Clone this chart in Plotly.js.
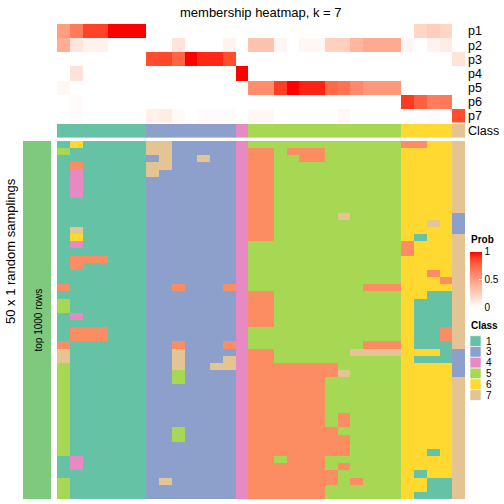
<!DOCTYPE html>
<html><head><meta charset="utf-8">
<script src="https://cdn.plot.ly/plotly-3.0.1.min.js"></script>
<style>html,body{margin:0;padding:0;background:#fff}#chart{width:504px;height:504px}</style>
</head><body><div id="chart"></div>
<script>
// ---------- data ----------
const probLabels = ['p1','p2','p3','p4','p5','p6','p7'];
//            1    2    3    4    5  6  7   8    9    10   11  12   13   14   15  16   17   18   19  20   21   22   23   24   25   26   27   28   29   30   31   32
const p1 = [0.50,0.67,0.88,0.88,1, 1, 1,  0,   0,   0,   0,  0,   0,   0,   0,  0,   0,   0,   0,  0,   0,   0,   0,   0,   0,   0,   0,   0,   0.22,0.26,0.22,0];
const p2 = [0.42,0.13,0.07,0.07,0, 0, 0,  0,   0,   0.15,0,  0,   0,   0.06,0,  0.32,0.32,0.05,0,  0.04,0.04,0.25,0.25,0.38,0.44,0.44,0.44,0.05,0,   0.06,0.10,0];
const p3 = [0,   0,   0,   0,   0, 0, 0,  0.85,0.87,0.76,1,  0.93,0.93,0.85,0,  0,   0,   0,   0,  0,   0,   0,   0,   0,   0,   0,   0,   0,   0,   0,   0,   0.15];
const p4 = [0,   0.15,0,   0,   0, 0, 0,  0,   0,   0,   0,  0,   0,   0,   1,  0,   0,   0,   0,  0,   0,   0,   0,   0,   0,   0,   0,   0,   0,   0,   0,   0];
const p5 = [0.04,0,   0,   0,   0, 0, 0,  0,   0,   0,   0,  0,   0,   0,   0,  0.58,0.58,0.89,1,  0.94,0.94,0.74,0.70,0.60,0.53,0.53,0.53,0,   0,   0,   0,   0];
const p6 = [0,   0.02,0,   0,   0, 0, 0,  0,   0,   0,   0,  0,   0,   0,   0,  0,   0,   0,   0,  0,   0,   0,   0,   0,   0,   0,   0,   0.90,0.78,0.66,0.68,0];
const p7 = [0,   0.02,0,   0,   0, 0, 0,  0.08,0.10,0.03,0,  0.02,0.02,0.02,0,  0.04,0.04,0,   0,  0,   0,   0,   0.04,0,   0,   0,   0,   0,   0,   0.02,0,   0.85];

const sampleClass = [1,1,1,1,1,1,1, 3,3,3,3,3,3,3, 4, 5,5,5,5,5,5,5,5,5,5,5,5, 6,6,6,6, 7];

// 50 random samplings x 32 samples (class per sample), groups of 7,7,1,12,4,1 columns
const samplingRows = [
 "1611111 7733333 4 555555555555 2266 7",
 "5111111 7733333 4 225222555555 6666 7",
 "1111111 3733733 4 225522555555 6666 7",
 "1211111 7733333 4 225555555555 6666 7",
 "1411111 7333333 4 225555555555 6666 7",
 "1411111 3333333 4 225555555555 6666 7",
 "1411111 3333333 4 225555555555 6666 7",
 "1411111 3333333 4 225555555555 6666 7",
 "1111111 3333333 4 225555555555 6666 7",
 "1111111 3333333 4 225555555555 6666 7",
 "1111111 3333333 4 225555575555 6666 3",
 "1111111 3333333 4 225555555555 6676 3",
 "1711111 3333333 4 225555555555 6666 3",
 "1611111 3333333 4 225555555555 6166 7",
 "1411111 3333333 4 555555555555 2666 7",
 "1111111 3333333 4 555555555555 2666 7",
 "1222111 3333333 4 555555555555 6666 7",
 "1211111 3333333 4 555555555555 6666 7",
 "1111111 3333333 4 555555555555 6626 7",
 "1111111 3333333 4 555555555555 6662 7",
 "2111111 3323332 4 555555555222 6666 7",
 "1111111 3333333 4 225555555555 6611 7",
 "5111111 3333333 4 225555555555 6111 7",
 "5111111 3333333 4 225555555555 6111 7",
 "1411111 3333333 4 225555555555 6111 7",
 "1111111 3333333 4 225555555555 6111 7",
 "1222111 3333333 4 555555555555 6112 7",
 "1222111 3333333 4 555555555555 6112 7",
 "2111111 3323332 4 555555555222 6111 7",
 "7111111 3373333 4 225555557777 6661 3",
 "7111111 3373337 4 225555555555 6111 3",
 "5111111 3373377 4 222222255555 6666 3",
 "5111111 3353333 4 222222275555 6666 3",
 "5111111 3353333 4 222222555555 6666 7",
 "5111111 3333333 4 222222555555 6666 7",
 "5111111 3333333 4 222222555555 6666 7",
 "5111111 3333333 4 222222555555 6666 7",
 "5111111 3333333 4 222222555555 6666 7",
 "5111111 3333333 4 222222525555 6666 7",
 "5111111 3333333 4 222222525555 6666 7",
 "5111111 3353333 4 222222255555 6666 7",
 "5111111 3353333 4 222222225555 6666 7",
 "5111111 3333333 4 222222225555 6666 7",
 "5111111 3333333 4 222222225555 6616 7",
 "1411111 3333333 4 225222555555 6666 7",
 "1411111 3333333 4 222222525555 6666 7",
 "1111111 3333333 4 222222255555 6166 7",
 "5111111 3733333 4 222222252555 6611 7",
 "5111111 3333333 4 222222555555 6611 7",
 "5111111 3333333 4 222222555555 6111 7"
];

const classLevels = [1,2,3,4,5,6,7];
const classColors = ['#66C2A5','#FC8D62','#8DA0CB','#E78AC3','#A6D854','#FFD92F','#E5C494'];
const legendClasses = [1,3,4,5,6,7];
const rowGroupLabel = 'top 1000 rows';
const rowGroupColor = '#7FC97F';
const probTicks = [0, 0.5, 1];
const probTickText = ['0', '0.5', '1'];
const chartTitle = 'membership heatmap, k = 7';
const rowTitle = '50 x 1 random samplings';

// ---------- build ----------
const W = 504, H = 504;
const fx = px => px / W;
const fy = px => 1 - px / H;
const nS = sampleClass.length;
const sampleIdx = sampleClass.map((_, i) => i);

const probZ = [p1, p2, p3, p4, p5, p6, p7];
const sampZ = samplingRows.map(r => r.replace(/ /g, '').split('').map(Number));
const rowIdx = sampZ.map((_, i) => i + 1);

// LAB-like white -> red ramp
const probScale = [
  [0, '#FFFFFF'], [0.125, '#FFE7DE'], [0.25, '#FFCFBF'], [0.375, '#FFB7A0'],
  [0.5, '#FF9E81'], [0.625, '#FF8464'], [0.75, '#FF6846'], [0.875, '#FF4628'], [1, '#FF0000']
];
const n = classLevels.length;
const classScale = [];
classColors.forEach((c, i) => { classScale.push([i / n, c]); classScale.push([(i + 1) / n, c]); });

const X0 = 57, X1 = 465;
const xDom = [fx(X0), fx(X1)];
const xRange = [-0.5, nS - 0.5];

const traces = [
  { type: 'heatmap', x: sampleIdx, y: probLabels, z: probZ, xaxis: 'x', yaxis: 'y',
    colorscale: probScale, zmin: 0, zmax: 1, hoverinfo: 'skip',
    colorbar: { x: fx(470), xanchor: 'left', xpad: 0, ypad: 0, y: fy(279.5), yanchor: 'middle',
      len: 56, lenmode: 'pixels', thickness: 11.5, thicknessmode: 'pixels', outlinewidth: 0,
      tickvals: probTicks, ticktext: probTickText, ticks: 'inside', ticklen: 3, tickcolor: 'white',
      tickwidth: 1, tickfont: { size: 10, color: '#000' }, title: { text: '' } } },
  { type: 'heatmap', x: sampleIdx, y: ['Class'], z: [sampleClass], xaxis: 'x2', yaxis: 'y2',
    colorscale: classScale, zmin: 0.5, zmax: n + 0.5, showscale: false, hoverinfo: 'skip' },
  { type: 'heatmap', x: sampleIdx, y: rowIdx, z: sampZ, xaxis: 'x3', yaxis: 'y3',
    colorscale: classScale, zmin: 0.5, zmax: n + 0.5, showscale: false, hoverinfo: 'skip' },
  { type: 'heatmap', x: [0], y: rowIdx, z: rowIdx.map(() => [1]), xaxis: 'x4', yaxis: 'y4',
    colorscale: [[0, rowGroupColor], [1, rowGroupColor]], showscale: false, hoverinfo: 'skip' }
];

const hidden = { visible: false, fixedrange: true, showgrid: false, zeroline: false };
const layout = {
  width: W, height: H, margin: { l: 0, r: 0, t: 0, b: 0 },
  paper_bgcolor: '#fff', plot_bgcolor: '#fff', showlegend: false,
  font: { family: 'Liberation Sans, Arial, sans-serif', color: '#000', size: 12 },
  xaxis: Object.assign({ domain: xDom, anchor: 'y', range: xRange }, hidden),
  yaxis: { domain: [fy(122.6), fy(24)], anchor: 'x', type: 'category', autorange: 'reversed',
    side: 'right', showgrid: false, zeroline: false, showline: false, ticks: '',
    tickmode: 'array', tickvals: probLabels, ticktext: probLabels, ticklabelstandoff: 2,
    tickfont: { size: 12.5 }, fixedrange: true },
  xaxis2: Object.assign({ domain: xDom, anchor: 'y2', range: xRange }, hidden),
  yaxis2: { domain: [fy(137.8), fy(123.8)], anchor: 'x2', type: 'category', side: 'right',
    tickmode: 'array', tickvals: ['Class'], ticktext: ['Class'], ticklabelstandoff: 2,
    showgrid: false, zeroline: false, showline: false, ticks: '', tickfont: { size: 12.5 }, fixedrange: true },
  xaxis3: Object.assign({ domain: xDom, anchor: 'y3', range: xRange }, hidden),
  yaxis3: Object.assign({ domain: [fy(499), fy(141)], anchor: 'x3', range: [rowIdx.length + 0.5, 0.5] }, hidden),
  xaxis4: Object.assign({ domain: [fx(23), fx(51)], anchor: 'y4', range: [-0.5, 0.5] }, hidden),
  yaxis4: Object.assign({ domain: [fy(499), fy(141)], anchor: 'x4', range: [rowIdx.length + 0.5, 0.5] }, hidden),
  annotations: [],
  shapes: []
};

const ann = (text, x, y, opts) => Object.assign({ text, x, y, xref: 'paper', yref: 'paper',
  showarrow: false, xanchor: 'center', yanchor: 'middle', font: { size: 12, color: '#000' } }, opts || {});

layout.annotations.push(ann(chartTitle, fx(261), fy(12), { font: { size: 13, color: '#000' } }));
layout.annotations.push(ann(rowTitle, fx(10), fy(251), { textangle: -90, font: { size: 13, color: '#000' } }));
layout.annotations.push(ann(rowGroupLabel, fx(37.5), fy(320), { textangle: -90, font: { size: 10, color: '#000' } }));
layout.annotations.push(ann('<b>Prob</b>', fx(469.5), fy(239.5), { xanchor: 'left', borderpad: 0, font: { size: 10, color: '#000' } }));
layout.annotations.push(ann('<b>Class</b>', fx(469.5), fy(325), { xanchor: 'left', borderpad: 0, font: { size: 10, color: '#000' } }));

const boxTop = 335.7, boxH = 10.8;
legendClasses.forEach((c, i) => {
  const y0 = boxTop + i * boxH;
  layout.shapes.push({ type: 'rect', xref: 'paper', yref: 'paper', x0: fx(470), x1: fx(481),
    y0: fy(y0 + boxH), y1: fy(y0), fillcolor: classColors[classLevels.indexOf(c)],
    line: { color: '#fff', width: 0.6 } });
  layout.annotations.push(ann(String(c), fx(484.5), fy(y0 + boxH / 2), { xanchor: 'left', borderpad: 0, font: { size: 10, color: '#000' } }));
});

Plotly.newPlot('chart', traces, layout, { displayModeBar: false, staticPlot: true });
</script>
</body></html>
